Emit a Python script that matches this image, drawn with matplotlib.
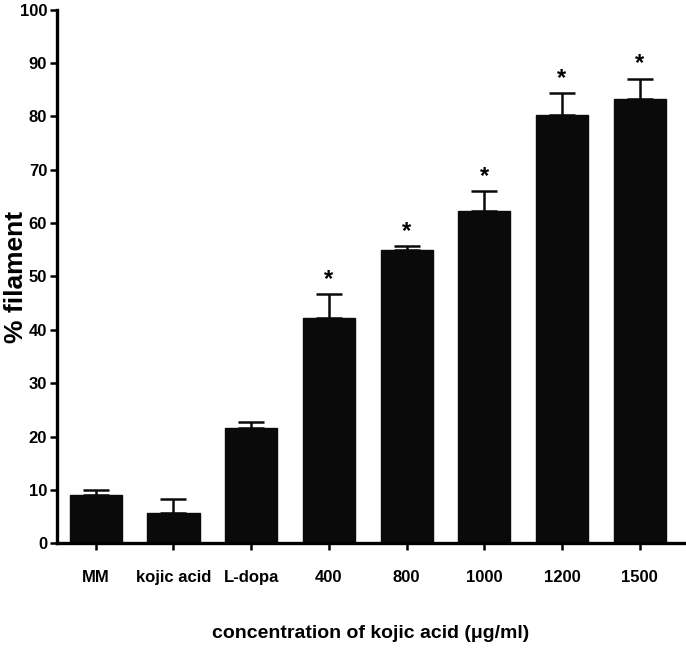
import matplotlib.pyplot as plt
import numpy as np

plt.rcParams['font.family'] = ['Liberation Sans', 'DejaVu Sans']
plt.rcParams['font.weight'] = 'bold'

groups = ['MM', 'kojic acid', 'L-dopa', '400', '800', '1000', '1200', '1500']
means = [9.1, 5.6, 21.6, 42.2, 54.9, 62.2, 80.3, 83.3]
errors = [0.9, 2.6, 1.2, 4.5, 0.8, 3.8, 4.0, 3.8]
significant = [False, False, False, True, True, True, True, True]

fig = plt.figure(figsize=(6.86, 6.49), dpi=100)
ax = fig.add_axes([0.083, 0.163, 0.914, 0.822])

x = np.arange(len(groups))
ax.bar(x, means, width=0.67, color='#0a0a0a', edgecolor='#0a0a0a')
ax.errorbar(x, means, yerr=[np.zeros(len(means)), errors], fmt='none',
            ecolor='#0a0a0a', elinewidth=1.8, capsize=9.5, capthick=1.8)

for xi, m, e, s in zip(x, means, errors, significant):
    if s:
        ax.text(xi, m + e + 0.6, '*', ha='center', va='bottom',
                fontsize=17, fontweight='bold')

ax.set_xlim(-0.5, 7.57)
ax.set_ylim(0, 100)
ax.set_yticks(range(0, 101, 10))
ax.set_xticks(x)
ax.set_xticklabels(groups)

for side in ['top', 'right']:
    ax.spines[side].set_visible(False)
for side in ['left', 'bottom']:
    ax.spines[side].set_linewidth(2.4)

ax.tick_params(axis='both', direction='out', length=5, width=1.8, labelsize=12)
ax.tick_params(axis='x', pad=14)
ax.tick_params(axis='y', pad=2)

ax.set_ylabel('% filament', fontsize=19, fontweight='bold')
ax.yaxis.set_label_coords(-0.046, 0.5)
ax.set_xlabel('concentration of kojic acid (\u03bcg/ml)', fontsize=14,
              fontweight='bold', labelpad=29)

fig.savefig('out.png', dpi=100)
